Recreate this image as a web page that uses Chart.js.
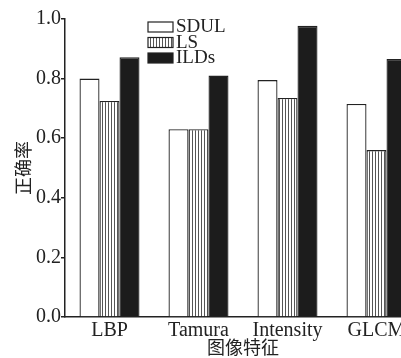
<!DOCTYPE html>
<html>
<head>
<meta charset="utf-8">
<script src="https://cdn.jsdelivr.net/npm/chart.js@4"></script>
<style>
  html, body { margin: 0; padding: 0; background: #fff; overflow: hidden; }
  #wrap { width: 425px; height: 358px; }
</style>
</head>
<body>
<div id="wrap"><canvas id="chart" width="425" height="358"></canvas></div>
<script>
// data
const categories = ['LBP', 'Tamura', 'Intensity', 'GLCM'];
const sdul = [0.80, 0.63, 0.795, 0.715];
const ls = [0.725, 0.63, 0.735, 0.56];
const ilds = [0.872, 0.81, 0.977, 0.866];
const yTicks = [0.0, 0.2, 0.4, 0.6, 0.8, 1.0];

const ink = '#222';
const serif = "'Liberation Serif', 'DejaVu Serif', serif";

// vertical hatch for LS
function makeHatch() {
    const pc = document.createElement('canvas');
    pc.width = 3;
    pc.height = 4;
    const c = pc.getContext('2d');
    c.fillStyle = '#fff';
    c.fillRect(0, 0, 3, 4);
    c.fillStyle = '#555';
    c.fillRect(0, 0, 1, 4);
    return c.createPattern(pc, 'repeat');
}

// legend drawn inside the plot, top left
const innerLegend = {
    id: 'innerLegend',
    afterDraw(chart) {
        const ctx = chart.ctx;
        ctx.save();
        ctx.font = '19px ' + serif;
        ctx.textBaseline = 'middle';
        chart.data.datasets.forEach(function (ds, i) {
            const x = 148, y = 22 + i * 15.5;
            ctx.fillStyle = ds.backgroundColor;
            ctx.fillRect(x, y, 25, 10);
            ctx.strokeStyle = ink;
            ctx.lineWidth = 1.2;
            ctx.strokeRect(x, y, 25, 10);
            ctx.fillStyle = ink;
            ctx.fillText(ds.label, x + 28, y + 5.5);
        });
        ctx.restore();
    }
};

const ctx = document.getElementById('chart').getContext('2d');
new Chart(ctx, {
    type: 'bar',
    data: {
        labels: categories,
        datasets: [
            { label: 'SDUL', data: sdul, backgroundColor: '#fff' },
            { label: 'LS', data: ls, backgroundColor: makeHatch() },
            { label: 'ILDs', data: ilds, backgroundColor: '#1c1c1c' }
        ]
    },
    options: {
        responsive: false,
        animation: false,
        datasets: {
            bar: {
                borderColor: ink,
                borderWidth: 1.3,
                barPercentage: 1,
                categoryPercentage: 0.674
            }
        },
        layout: { padding: { top: 19, right: 4, left: 12, bottom: 0 } },
        plugins: {
            legend: { display: false },
            tooltip: { enabled: false }
        },
        scales: {
            x: {
                grid: { display: false, drawTicks: false, tickLength: 0 },
                border: { display: true, color: ink, width: 1.5 },
                ticks: { color: ink, padding: 2, font: { family: serif, size: 20 } },
                title: {
                    display: true,
                    text: '图像特征',
                    color: ink,
                    padding: { top: 0, bottom: 0 },
                    font: { family: "'Noto Sans CJK SC', sans-serif", size: 18 }
                },
                afterFit(scale) { scale.height = 41; }
            },
            y: {
                min: 0,
                max: 1,
                afterBuildTicks(scale) { scale.ticks = yTicks.map(v => ({ value: v })); },
                grid: { drawOnChartArea: false, drawTicks: true, tickLength: 4, color: ink, lineWidth: 1.5 },
                border: { display: true, color: ink, width: 1.5 },
                ticks: {
                    color: ink,
                    padding: 0,
                    font: { family: serif, size: 20 },
                    callback: v => v.toFixed(1)
                },
                title: {
                    display: true,
                    text: '正确率',
                    color: ink,
                    padding: { top: 0, bottom: 0 },
                    font: { family: "'Noto Sans CJK SC', sans-serif", size: 18 }
                },
                afterFit(scale) { scale.width = 53; }
            }
        }
    },
    plugins: [innerLegend]
});
</script>
</body>
</html>
